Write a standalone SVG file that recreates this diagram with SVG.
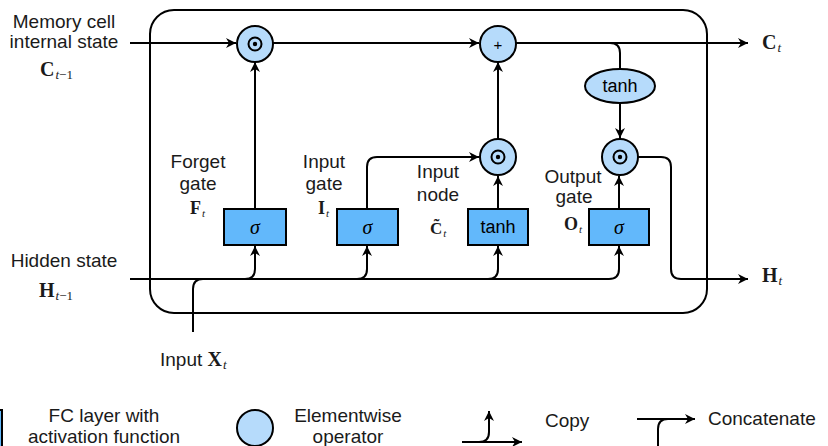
<svg xmlns="http://www.w3.org/2000/svg" width="828" height="446" viewBox="0 0 828 446">
<defs>
<marker id="ah" viewBox="0 0 10 10" refX="10" refY="5" markerWidth="10" markerHeight="10" markerUnits="userSpaceOnUse" orient="auto">
<path d="M0,0 L10,5 L0,10 L3,5 Z" fill="#000"/>
</marker>
<style>
.lbl{font-family:"Liberation Sans",Arial,sans-serif;font-size:19px;fill:#1a1a1a;text-anchor:middle}
.var{font-family:"Liberation Serif","Times New Roman",serif;font-size:18px;font-weight:bold;fill:#1a1a1a}
.big{font-size:20px}
.sub{font-family:"Liberation Serif","Times New Roman",serif;font-size:11px;font-style:italic;font-weight:normal}
.subn{font-family:"Liberation Serif","Times New Roman",serif;font-size:11px;font-weight:normal}
.big .sub,.big .subn{font-size:13px}
.ln{fill:none;stroke:#000;stroke-width:2}
.arr{fill:none;stroke:#000;stroke-width:2;marker-end:url(#ah)}
.op{fill:#b6dbfb;stroke:#000;stroke-width:2}
.fc{fill:#62b8fb;stroke:#000;stroke-width:2}
.sym{font-family:"Liberation Sans",Arial,sans-serif;font-size:18px;fill:#000;text-anchor:middle}
.sig{font-family:"Liberation Serif","Times New Roman",serif;font-size:20px;font-style:italic;fill:#000;text-anchor:middle}
</style>
</defs>

<!-- main cell frame -->
<rect id="cell" x="150" y="10" width="557" height="303" rx="24" ry="24" class="ln"/>

<g id="connectors">
<path class="arr" d="M130,43 H236"/>
<path class="arr" d="M273,43 H479"/>
<path class="arr" d="M516,43 H748"/>
<path class="ln" d="M610,43 Q620,43 620,53 V69"/>
<path class="arr" d="M620,103 V138"/>
<path class="arr" d="M255,209 V62"/>
<path class="arr" d="M367,209 V167 Q367,157 377,157 H479"/>
<path class="arr" d="M498,209 V176"/>
<path class="arr" d="M498,139 V62"/>
<path class="arr" d="M619,209 V176"/>
<path class="arr" d="M638,157 H661 Q671,157 671,167 V269 Q671,279 681,279 H748"/>
<path class="arr" d="M130,279 H609 Q619,279 619,269 V246"/>
<path class="ln" d="M193,332 V289 Q193,279 203,279"/>
<path class="arr" d="M245,279 Q255,279 255,269 V246"/>
<path class="arr" d="M357,279 Q367,279 367,269 V246"/>
<path class="arr" d="M488,279 Q498,279 498,269 V246"/>
</g>

<g id="op-forget">
<circle cx="255" cy="44" r="18" class="op"/>
<circle cx="255" cy="44" r="6.5" fill="none" stroke="#000" stroke-width="2"/>
<circle cx="255" cy="44" r="2.2" fill="#000"/>
</g>
<g id="op-plus">
<circle cx="498" cy="44" r="18" class="op"/>
<text x="498" y="49.5" class="sym" style="font-size:15px">+</text>
</g>
<g id="op-input">
<circle cx="498" cy="157" r="18" class="op"/>
<circle cx="498" cy="157" r="6.5" fill="none" stroke="#000" stroke-width="2"/>
<circle cx="498" cy="157" r="2.2" fill="#000"/>
</g>
<g id="op-output">
<circle cx="620" cy="157" r="18" class="op"/>
<circle cx="620" cy="157" r="6.5" fill="none" stroke="#000" stroke-width="2"/>
<circle cx="620" cy="157" r="2.2" fill="#000"/>
</g>
<g id="tanh-out">
<ellipse cx="620" cy="86" rx="35" ry="17" class="op"/>
<text x="620" y="92" class="sym">tanh</text>
</g>

<g id="forget-gate">
<rect x="224" y="209" width="62" height="36" class="fc"/>
<text x="255" y="234" class="sig">σ</text>
</g>
<g id="input-gate">
<rect x="337" y="209" width="61" height="36" class="fc"/>
<text x="367.5" y="234" class="sig">σ</text>
</g>
<g id="input-node">
<rect x="468" y="209" width="60" height="36" class="fc"/>
<text x="498" y="233" class="sym">tanh</text>
</g>
<g id="output-gate">
<rect x="589" y="209" width="60" height="36" class="fc"/>
<text x="619" y="234" class="sig">σ</text>
</g>

<g id="labels">
<text class="lbl" x="64" y="28">Memory cell</text>
<text class="lbl" x="64" y="48">internal state</text>
<text class="var big" x="40" y="76">C<tspan class="sub" dx="1" dy="3">t</tspan><tspan class="subn">−1</tspan></text>

<text class="lbl" x="64" y="267">Hidden state</text>
<text class="var big" x="39" y="297">H<tspan class="sub" dx="1" dy="3">t</tspan><tspan class="subn">−1</tspan></text>

<text class="lbl" x="198" y="168">Forget</text>
<text class="lbl" x="198" y="190">gate</text>
<text class="var" x="190" y="214">F<tspan class="sub" dx="1" dy="3">t</tspan></text>

<text class="lbl" x="324" y="168">Input</text>
<text class="lbl" x="324" y="190">gate</text>
<text class="var" x="318" y="214">I<tspan class="sub" dx="1" dy="3">t</tspan></text>

<text class="lbl" x="438" y="178">Input</text>
<text class="lbl" x="438" y="201">node</text>
<text class="var" x="430" y="234" style="font-size:17px">C&#x303;<tspan class="sub" dx="1" dy="3">t</tspan></text>

<text class="lbl" x="573" y="183">Output</text>
<text class="lbl" x="574" y="203">gate</text>
<text class="var" x="564" y="230">O<tspan class="sub" dx="1" dy="3">t</tspan></text>

<text class="var big" x="762" y="49">C<tspan class="sub" dx="1" dy="3">t</tspan></text>
<text class="var big" x="762" y="282">H<tspan class="sub" dx="1" dy="3">t</tspan></text>

<text class="lbl" x="160" y="366" style="text-anchor:start">Input <tspan class="var" style="font-size:20px">X</tspan><tspan class="sub" style="font-size:13px" dx="1" dy="3">t</tspan></text>
</g>

<g id="legend-fc">
<rect x="-30" y="410" width="32" height="50" class="fc"/>
<text class="lbl" x="104" y="422">FC layer with</text>
<text class="lbl" x="104" y="443">activation function</text>
</g>
<g id="legend-op">
<circle cx="255" cy="428" r="18" class="op"/>
<text class="lbl" x="348" y="422">Elementwise</text>
<text class="lbl" x="348" y="443">operator</text>
</g>
<g id="legend-copy">
<path class="arr" d="M462,442 H522"/>
<path class="arr" d="M479,442 Q489,442 489,432 V411"/>
<text class="lbl" x="545" y="427" style="text-anchor:start">Copy</text>
</g>
<g id="legend-concat">
<path class="arr" d="M637,419 H695"/>
<path class="ln" d="M658,446 V429 Q658,419 668,419"/>
<text class="lbl" x="708" y="425" style="text-anchor:start">Concatenate</text>
</g>
</svg>
